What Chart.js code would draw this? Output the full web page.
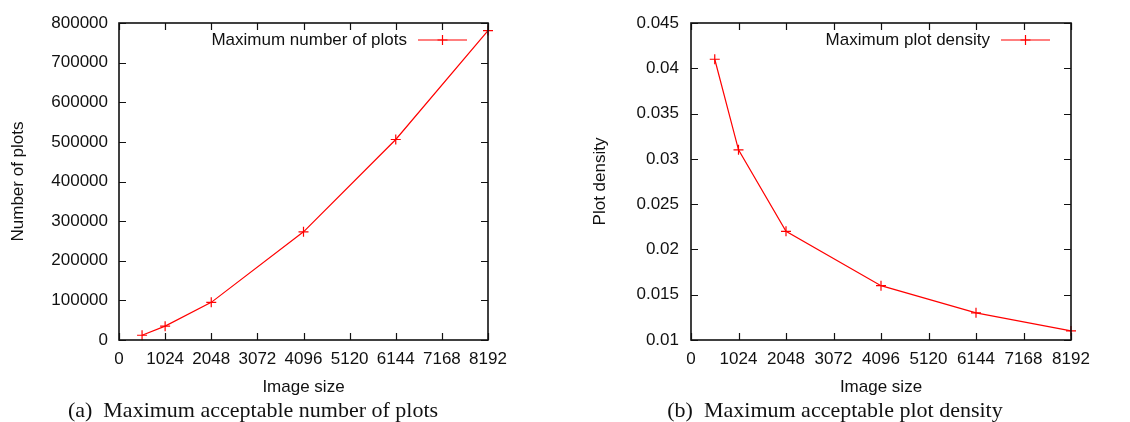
<!DOCTYPE html>
<html>
<head>
<meta charset="utf-8">
<script src="https://cdn.jsdelivr.net/npm/chart.js@4.4.1/dist/chart.umd.min.js"></script>
<style>
  html,body{margin:0;padding:0;background:#fff;}
  body{width:1130px;height:422px;position:relative;overflow:hidden;}
  .plot{position:absolute;top:0;}
  .caption{position:absolute;top:397px;font-family:'Liberation Serif',serif;font-size:22px;color:#111;
           transform:translateX(-50%);white-space:nowrap;line-height:26px;}
</style>
</head>
<body>
<div class="plot" style="left:0;width:560px;height:398px"><canvas id="plots-chart"></canvas></div>
<div class="plot" style="left:570px;width:560px;height:398px"><canvas id="density-chart"></canvas></div>
<div class="caption" style="left:253px">(a)&nbsp; Maximum acceptable number of plots</div>
<div class="caption" style="left:835px">(b)&nbsp; Maximum acceptable plot density</div>
<script>
// ===================== DATA =====================
const imageSizes = [512, 1024, 2048, 4096, 6144, 8192];
const maxPlots   = [12000, 35000, 95000, 273000, 506000, 781000];
const maxDensity = [0.041, 0.031, 0.022, 0.016, 0.013, 0.011];

const X_MIN = 0, X_MAX = 8192, X_STEP = 1024;
const PLOTS_MIN = 0, PLOTS_MAX = 800000, PLOTS_STEP = 100000;
const DENS_MIN = 0.01, DENS_MAX = 0.045, DENS_STEP = 0.005;

const FONT = "'Liberation Sans', Arial, sans-serif";
const INK = '#111';
const RED = '#ff0000';

// gnuplot-like frame: border + inward ticks on all four sides
const framePlugin = {
  id:'frame',
  afterDatasetsDraw(chart){
    const {ctx, chartArea:a, scales:{x, y}} = chart;
    const len = 7;
    ctx.save();
    ctx.strokeStyle = INK; ctx.lineWidth = 1.2;
    ctx.beginPath();
    x.ticks.forEach(t=>{
      const px = Math.round(x.getPixelForValue(t.value))+0.5;
      ctx.moveTo(px, a.bottom); ctx.lineTo(px, a.bottom-len);
      ctx.moveTo(px, a.top);    ctx.lineTo(px, a.top+len);
    });
    y.ticks.forEach(t=>{
      const py = Math.round(y.getPixelForValue(t.value))+0.5;
      ctx.moveTo(a.left, py);  ctx.lineTo(a.left+len, py);
      ctx.moveTo(a.right, py); ctx.lineTo(a.right-len, py);
    });
    ctx.stroke();
    ctx.lineWidth = 1.6;
    ctx.strokeRect(a.left, a.top, a.right-a.left, a.bottom-a.top);
    ctx.restore();
  }
};

// key in the top-right corner: label text, then a line sample with a cross
const keyPlugin = {
  id:'key',
  afterDatasetsDraw(chart){
    const {ctx, chartArea:a} = chart;
    const ds = chart.data.datasets[0];
    const sx1 = a.right-21, sx0 = sx1-49, sy = a.top+17;
    ctx.save();
    ctx.strokeStyle = ds.borderColor; ctx.lineWidth = 1.2;
    ctx.beginPath(); ctx.moveTo(sx0, sy); ctx.lineTo(sx1, sy); ctx.stroke();
    const cx = (sx0+sx1)/2, r = 5;
    ctx.beginPath(); ctx.moveTo(cx-r, sy); ctx.lineTo(cx+r, sy); ctx.moveTo(cx, sy-r); ctx.lineTo(cx, sy+r); ctx.stroke();
    ctx.fillStyle = INK; ctx.font = '17px '+FONT;
    ctx.textAlign = 'right'; ctx.textBaseline = 'middle';
    ctx.fillText(ds.label, sx0-11, sy);
    ctx.restore();
  }
};

function makeChart(id, label, values, yOpts, yTitle, layout){
  return new Chart(document.getElementById(id).getContext('2d'),{
    type:'line',
    data:{datasets:[{
      label, data:imageSizes.map((s,i)=>({x:s, y:values[i]})),
      borderColor:RED, borderWidth:1.2, tension:0, clip:false,
      pointStyle:'cross', pointRadius:5, pointBorderColor:RED, pointBorderWidth:1.2
    }]},
    options:{
      responsive:true, maintainAspectRatio:false, animation:false,
      layout:{padding:{left:0, top:23, right:layout.right, bottom:0}},
      plugins:{legend:{display:false}, tooltip:{enabled:false}},
      scales:{
        x:{type:'linear', min:X_MIN, max:X_MAX,
           afterFit:s=>{ s.height = 58; },
           grid:{display:false, drawTicks:false}, border:{display:false},
           ticks:{stepSize:X_STEP, padding:9, color:INK, font:{family:FONT, size:17}, maxRotation:0, callback:v=>v},
           title:{display:true, text:'Image size', color:INK, font:{family:FONT, size:17}, padding:{top:0, bottom:0}}},
        y:{type:'linear', min:yOpts.min, max:yOpts.max,
           afterFit:s=>{ s.width = layout.yWidth; },
           grid:{display:false, drawTicks:false}, border:{display:false},
           ticks:{stepSize:yOpts.step, padding:layout.tickPad, color:INK, font:{family:FONT, size:17}, callback:yOpts.fmt},
           title:{display:true, text:yTitle, color:INK, font:{family:FONT, size:17}, padding:{top:layout.titlePad, bottom:0}}}
      }
    },
    plugins:[framePlugin, keyPlugin]
  });
}

makeChart('plots-chart', 'Maximum number of plots', maxPlots,
  {min:PLOTS_MIN, max:PLOTS_MAX, step:PLOTS_STEP, fmt:v=>String(v)},
  'Number of plots', {right:72, yWidth:119, tickPad:11, titlePad:8});

makeChart('density-chart', 'Maximum plot density', maxDensity,
  {min:DENS_MIN, max:DENS_MAX, step:DENS_STEP, fmt:v=>String(+v.toFixed(3))},
  'Plot density', {right:59, yWidth:121, tickPad:12, titlePad:20});
</script>
</body>
</html>
